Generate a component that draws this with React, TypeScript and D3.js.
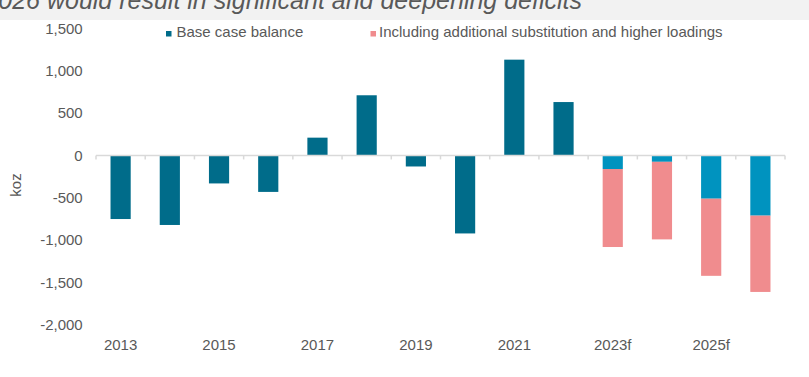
import React from "react";
import * as d3 from "d3";

const years = ["2013", "2014", "2015", "2016", "2017", "2018", "2019", "2020", "2021", "2022", "2023f", "2024f", "2025f", "2026f"];
const baseCase = [-750, -820, -330, -430, 210, 710, -130, -920, 1130, 630, -160, -75, -510, -710];
const additional = [0, 0, 0, 0, 0, 0, 0, 0, 0, 0, -920, -915, -910, -900];
const yTicks = [1500, 1000, 500, 0, -500, -1000, -1500, -2000];
const legendLabels = ["Base case balance", "Including additional substitution and higher loadings"];
const titleText = "Higher substitution and loadings through 2023-2026 would result in significant and deepening deficits";

const C_HIST = "#006C8A";
const C_FCST = "#0093BF";
const C_PINK = "#F08C8E";
const C_TEXT = "#595959";
const C_AXIS = "#D9D9D9";
const FONT = "'Liberation Sans', Arial, sans-serif";

export default function App() {
  const W = 809, H = 377;
  const x = d3.scaleBand<string>().domain(years).range([96, 785]).paddingInner(0.59).paddingOuter(0.295);
  const y = d3.scaleLinear().domain([-2000, 1500]).range([325, 28.3]);
  const fmt = (v: number) => d3.format(",")(v).replace("\u2212", "-");
  const step = x.step();
  const x0 = 96;
  const y0 = y(0);

  return (
    <svg width={W} height={H} style={{ position: "absolute", left: 0, top: 0, background: "#fff" }} fontFamily={FONT}>
      <rect x={0} y={0} width={W} height={20} fill="#F2F2F2" />
      <text x={582} y={9} textAnchor="end" fontSize={25} fontStyle="italic" fill={C_TEXT}>{titleText}</text>

      {/* legend */}
      <rect x={166} y={31} width={5.5} height={5.5} fill={C_HIST} />
      <text x={176.5} y={36.5} fontSize={15} fill={C_TEXT}>{legendLabels[0]}</text>
      <rect x={370.5} y={31} width={5.5} height={5.5} fill={C_PINK} />
      <text x={379} y={36.5} fontSize={15} fill={C_TEXT}>{legendLabels[1]}</text>

      {/* y axis labels */}
      {yTicks.map((t) => (
        <text key={t} x={82.7} y={y(t)} dy="0.35em" textAnchor="end" fontSize={15} fill={C_TEXT}>{fmt(t)}</text>
      ))}
      <text transform={`translate(16,185) rotate(-90)`} textAnchor="middle" dy="0.35em" fontSize={15} fill={C_TEXT}>koz</text>

      {/* bars */}
      {years.map((yr, i) => {
        const v = baseCase[i];
        const fc = yr.endsWith("f");
        const bx = x(yr) as number;
        const top = y(Math.max(0, v));
        const bot = y(Math.min(0, v));
        const add = additional[i];
        return (
          <g key={yr}>
            <rect x={bx} y={top} width={x.bandwidth()} height={bot - top} fill={fc ? C_FCST : C_HIST} />
            {add !== 0 && (
              <rect x={bx} y={y(v)} width={x.bandwidth()} height={y(v + add) - y(v)} fill={C_PINK} />
            )}
          </g>
        );
      })}

      {/* x axis */}
      <line x1={x0} x2={x0 + step * years.length} y1={y0} y2={y0} stroke={C_AXIS} strokeWidth={1.5} />
      {d3.range(years.length + 1).map((i) => (
        <line key={i} x1={x0 + i * step} x2={x0 + i * step} y1={y0} y2={y0 + 4} stroke={C_AXIS} strokeWidth={1.5} />
      ))}
      {years.map((yr, i) =>
        i % 2 === 0 ? (
          <text key={yr} x={(x(yr) as number) + x.bandwidth() / 2} y={349.5} textAnchor="middle" fontSize={15} fill={C_TEXT}>{yr}</text>
        ) : null
      )}
    </svg>
  );
}
